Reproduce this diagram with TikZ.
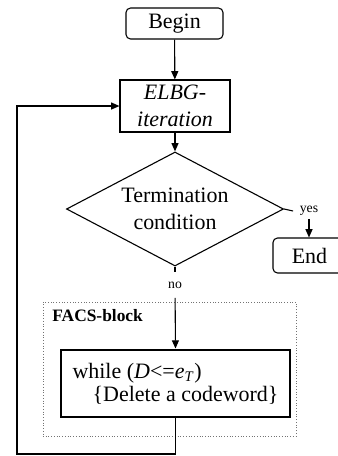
\documentclass[tikz,border=0pt]{standalone}
\usepackage{fontspec}
\setmainfont{Liberation Serif}
\usetikzlibrary{
	arrows.meta,
	positioning,
	shapes.geometric
}

\begin{document}
\begin{tikzpicture}[
			x=0.0192cm, y=-0.0192cm,
			font=\fontsize{12}{14.5}\selectfont,
			roundbox/.style={draw, rounded corners=2.5pt, line width=0.6pt, inner sep=0pt},
			procbox/.style={draw, line width=0.6pt, align=center, inner sep=0pt},
			decbox/.style={draw, diamond, aspect=1.9, line width=0.6pt, align=center, inner sep=0pt},
			tag/.style={font=\fontsize{7.5}{9}\selectfont},
			fl/.style={-{Triangle[length=4.5pt,width=3.8pt]}, line width=0.6pt}
		]

		\useasboundingbox (0,0) rectangle (338,456);

		\node[roundbox, minimum width=1.862cm, minimum height=0.595cm] (begin) at (174.5,23.5) {Begin};
		\node[procbox, minimum width=2.112cm, minimum height=0.998cm] (elbg) at (175,106) {\textit{ELBG-}\\ \textit{iteration}};
		\node[decbox, minimum width=4.166cm, minimum height=2.189cm] (term) at (175,209) {Termination\\ condition};
		\node[roundbox, minimum width=1.402cm, minimum height=0.672cm] (stop) at (309.5,255.5) {End};

		% FACS block with the deletion loop inside
		\node[draw, black!55, densely dotted, line width=0.5pt, minimum width=4.858cm, minimum height=2.573cm] (facs) at (169.5,369) {};
		\node[font=\fontsize{9.5}{11}\selectfont\bfseries, anchor=west, inner sep=0pt] (facstag) at (52,316) {FACS-block};
		\node[draw, line width=1.6pt, align=left, inner sep=0pt, minimum width=4.397cm, minimum height=1.286cm,
			font=\fontsize{12}{12.5}\selectfont] (loop) at (175.5,383.5)
			{while (\textit{D}<=\textit{e}\textsubscript{\textit{T}})\\ \hspace*{11pt}\{Delete a codeword\}};

		\node[tag, inner xsep=3.5pt, inner ysep=1.5pt] (yes) at (309,211) {yes};
		\node[tag, inner sep=5pt] (no) at (175,285) {no};
		\coordinate (back) at (17,454);

		\draw[fl] (begin) -- (elbg);
		\draw[fl] (elbg) -- (term);
		\draw[line width=0.6pt] (term.east) -- (yes.west);
		\draw[fl] (yes) -- (yes |- stop.north);
		\draw[line width=0.6pt] (term.south) -- (no);
		\draw[fl] (no) -- (loop.north);
		\draw[fl] (loop.south) |- (back) |- (elbg.west);
	\end{tikzpicture}
\end{document}
